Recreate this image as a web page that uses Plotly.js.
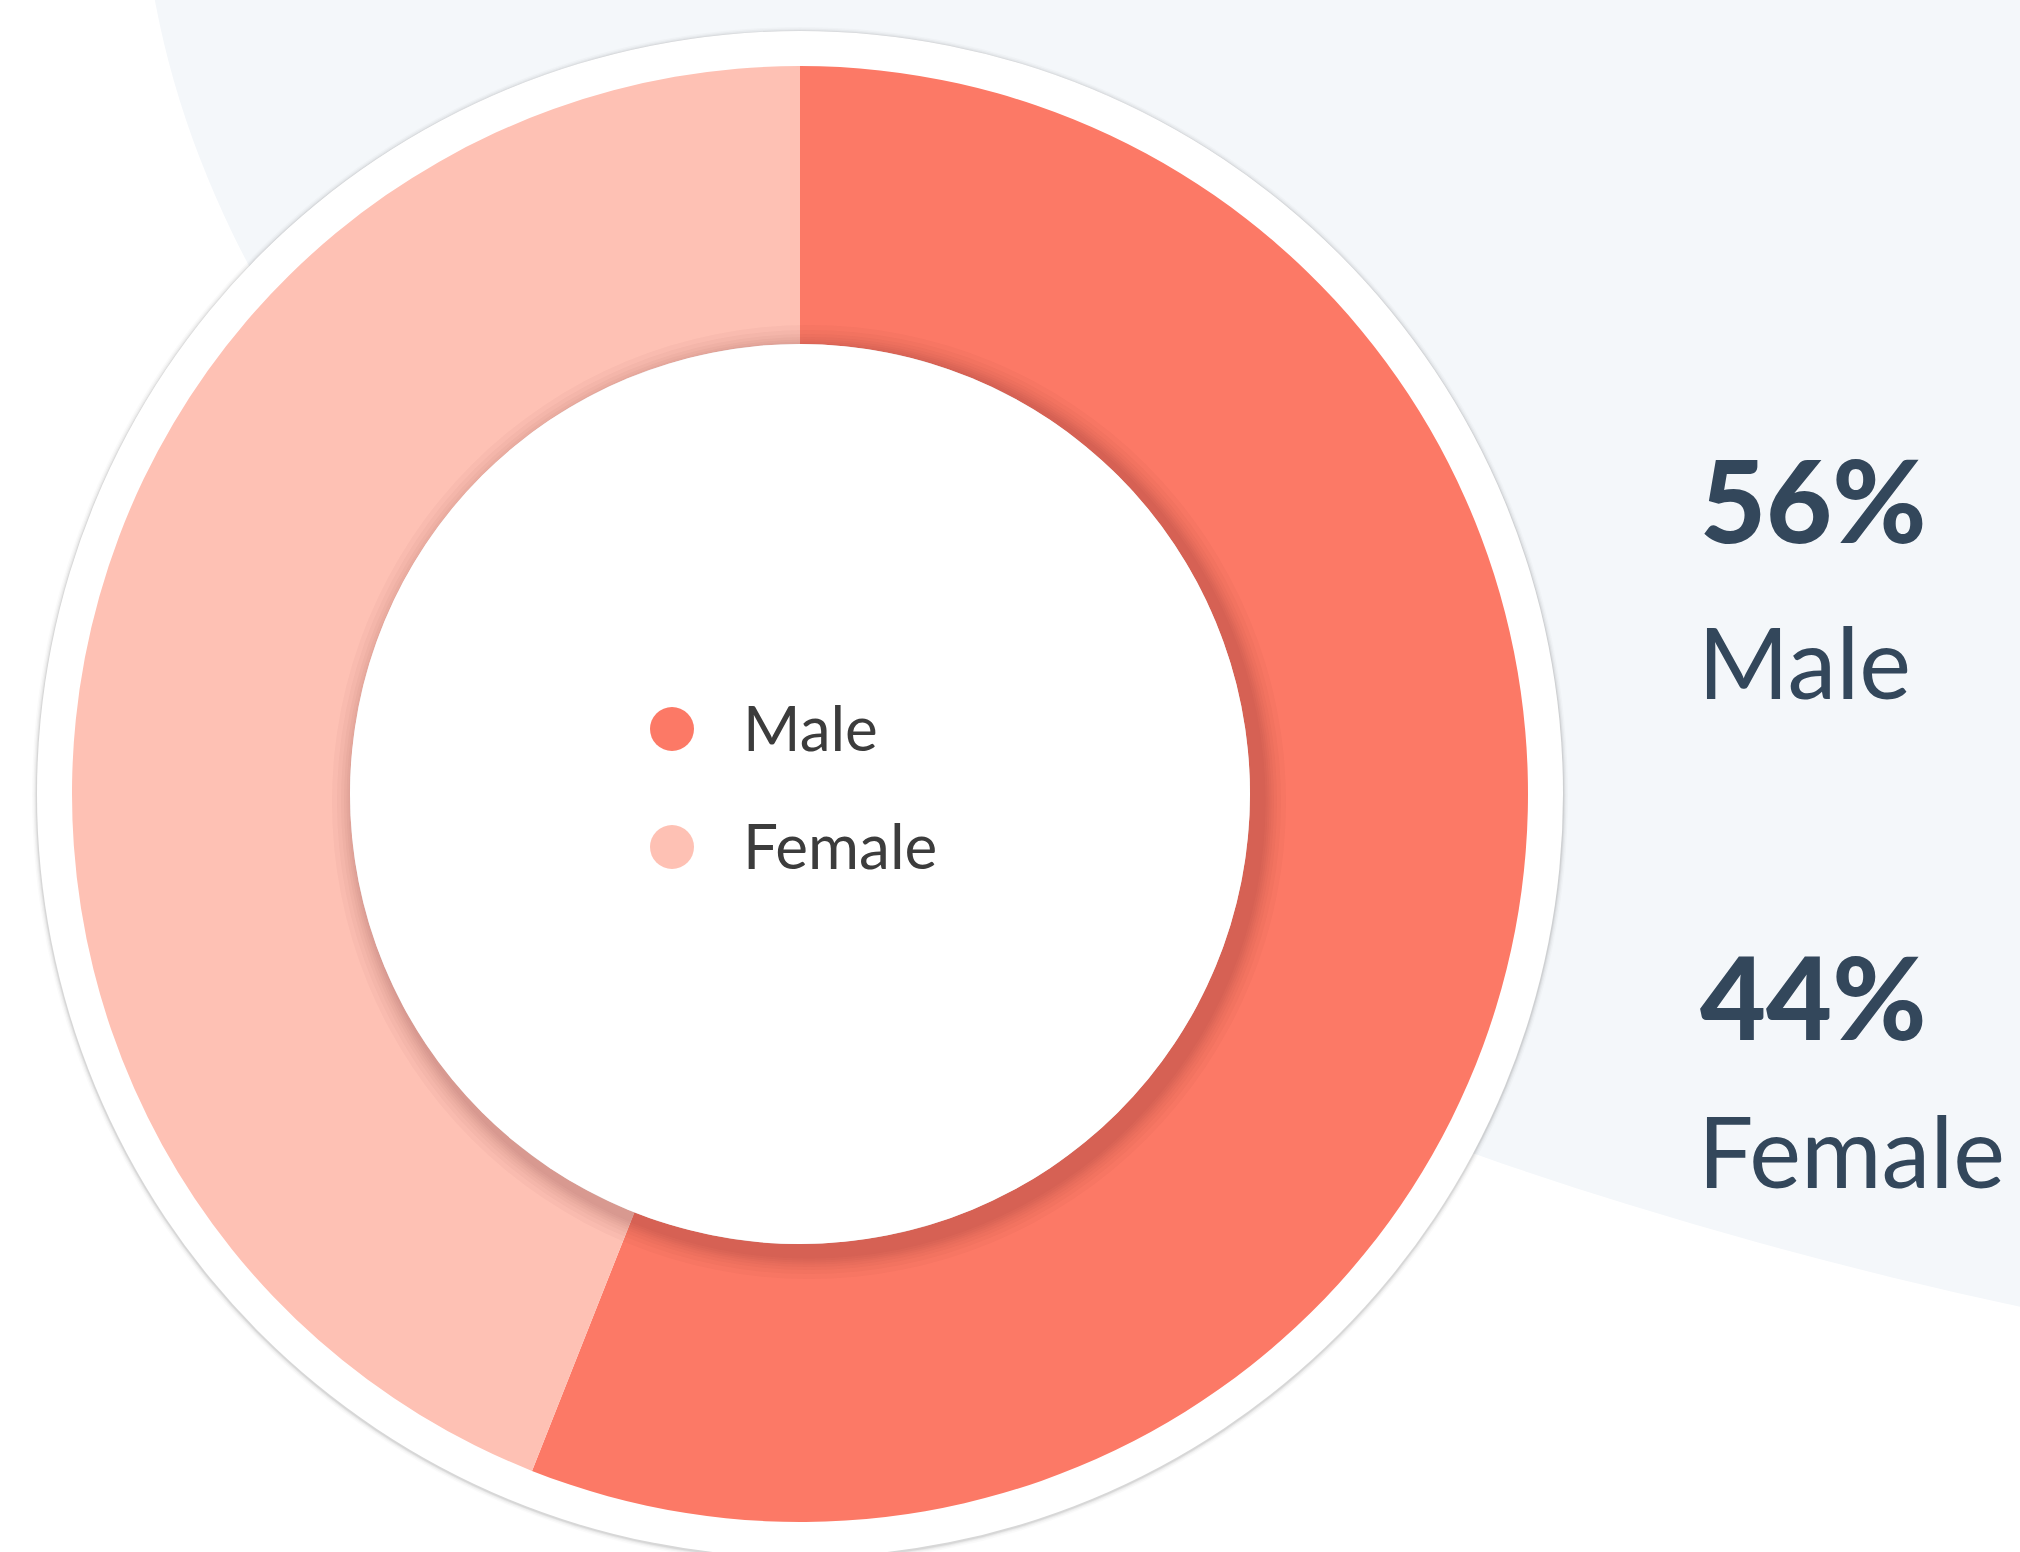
<!DOCTYPE html>
<html>
<head>
<meta charset="utf-8">
<script src="https://cdn.plot.ly/plotly-3.0.1.min.js"></script>
<style>
  html, body { margin: 0; padding: 0; background: #ffffff; }
  #chart { width: 2020px; height: 1552px; }
</style>
</head>
<body>
<div id="chart"></div>
<script>
// ---- data ----
const labels = ['Male', 'Female'];
const values = [56, 44];
const colors = ['#FC7966', '#FEC1B4'];

// ---- geometry (pixels) ----
const W = 2020, H = 1552;
const CX = 800, CY = 794, R_OUT = 728, R_HOLE = 450, R_RING = 763;

function px2paperX(x) { return x / W; }
function px2paperY(y) { return (H - y) / H; }
function ellipse(cx, cy, rx, ry, fill, layer) {
  return {
    type: 'circle', xref: 'paper', yref: 'paper', layer: layer,
    x0: px2paperX(cx - rx), x1: px2paperX(cx + rx),
    y0: px2paperY(cy + ry), y1: px2paperY(cy - ry),
    fillcolor: fill, line: { width: 0 }
  };
}
function circ(cx, cy, r, fill, layer) { return ellipse(cx, cy, r, r, fill, layer); }

const shapes = [];
// big light background ellipse
shapes.push(ellipse(3200, -150, 3059, 1579, '#F4F7FA', 'below'));
// outer white ring with soft shadow
[[5, 0.02], [3.5, 0.03], [2.2, 0.045], [1.2, 0.065]].forEach(function (s) {
  shapes.push(circ(CX, CY + 1, R_RING + s[0], 'rgba(0,0,0,' + s[1] + ')', 'below'));
});
shapes.push(circ(CX, CY, R_RING, '#ffffff', 'below'));

// inner hole shadow cast on the donut (offset down-right)
[27, 22, 18, 15, 12.5, 10.5, 8.5, 6.5].forEach(function (s) {
  shapes.push(circ(CX + 9, CY + 8, R_HOLE + s, 'rgba(110,35,25,0.032)', 'above'));
});
shapes.push(circ(CX, CY, R_HOLE, '#ffffff', 'above'));

// legend dots inside the hole
const legendX = 672, legendY0 = 729, legendGap = 118, dotR = 22;
labels.forEach(function (lab, i) {
  shapes.push(circ(legendX, legendY0 + i * legendGap, dotR, colors[i], 'above'));
});

const annotations = [];
// right side percentages and labels
const rightX = 1700;
const pctY = [499, 996];
const labY = [661, 1150];
labels.forEach(function (lab, i) {
  annotations.push({
    xref: 'paper', yref: 'paper', x: px2paperX(rightX - 2), y: px2paperY(pctY[i]),
    xanchor: 'left', yanchor: 'middle', showarrow: false,
    text: values[i] + '%',
    font: { family: 'Lato, sans-serif', size: 114, color: '#33475B', weight: 900 }
  });
  annotations.push({
    xref: 'paper', yref: 'paper', x: px2paperX(rightX - 4), y: px2paperY(labY[i]),
    xanchor: 'left', yanchor: 'middle', showarrow: false,
    text: lab,
    font: { family: 'Lato, sans-serif', size: 98, color: '#33475B', weight: 400 }
  });
});
// legend labels
labels.forEach(function (lab, i) {
  annotations.push({
    xref: 'paper', yref: 'paper', x: px2paperX(741), y: px2paperY(legendY0 - 2 + i * legendGap),
    xanchor: 'left', yanchor: 'middle', showarrow: false,
    text: lab,
    font: { family: 'Lato, sans-serif', size: 62, color: '#3C3C3C', weight: 400 }
  });
});

const trace = {
  type: 'pie',
  labels: labels,
  values: values,
  hole: R_HOLE / R_OUT,
  sort: false,
  direction: 'clockwise',
  rotation: 0,
  textinfo: 'none',
  hoverinfo: 'label+percent',
  marker: { colors: colors, line: { width: 0 } },
  domain: {
    x: [px2paperX(CX - R_OUT), px2paperX(CX + R_OUT)],
    y: [px2paperY(CY + R_OUT), px2paperY(CY - R_OUT)]
  }
};

const layout = {
  width: W, height: H,
  margin: { l: 0, r: 0, t: 0, b: 0, pad: 0 },
  paper_bgcolor: '#ffffff',
  showlegend: false,
  shapes: shapes,
  annotations: annotations
};

Plotly.newPlot('chart', [trace], layout, { displayModeBar: false });
</script>
</body>
</html>
